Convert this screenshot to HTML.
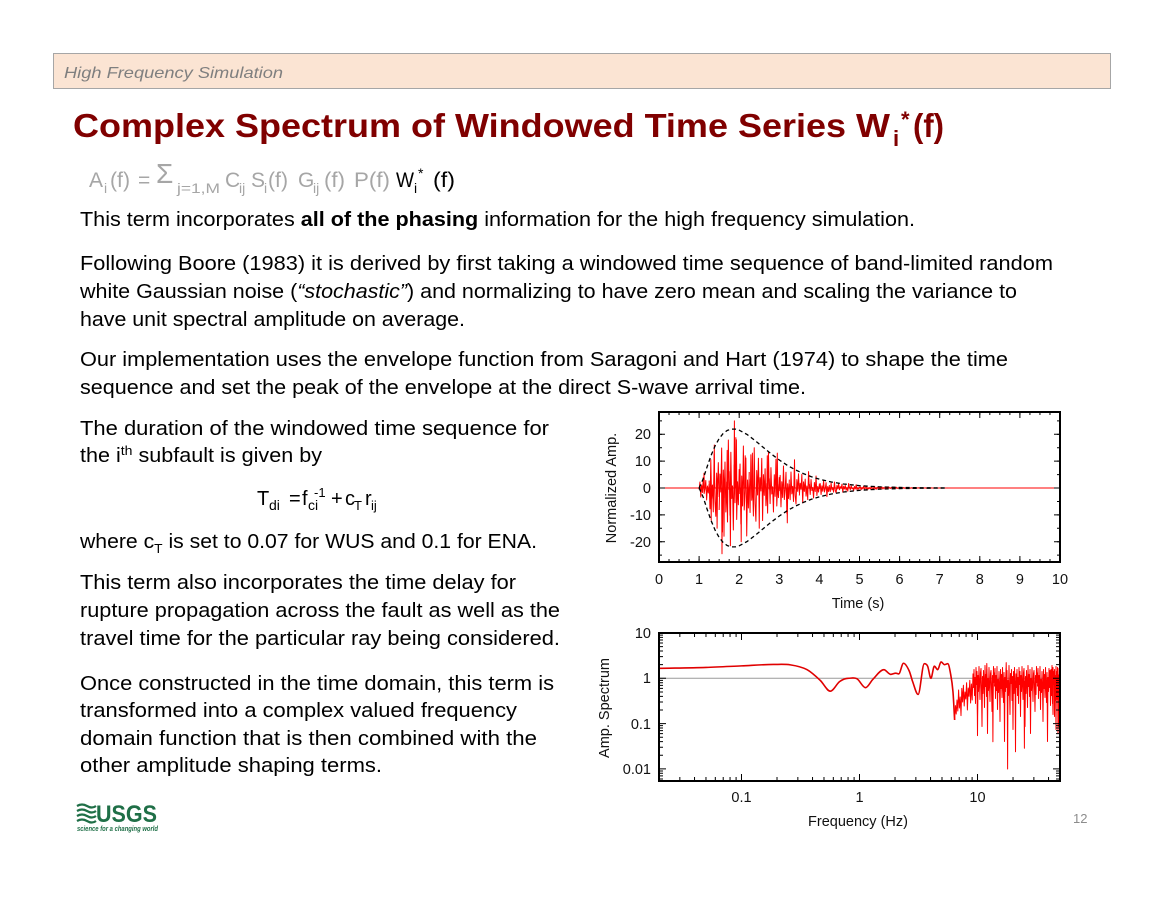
<!DOCTYPE html>
<html><head><meta charset="utf-8">
<style>html,body{margin:0;padding:0;background:#fff}svg{display:block}</style>
</head><body>
<svg width="1164" height="899" viewBox="0 0 1164 899" xmlns="http://www.w3.org/2000/svg" xmlns:xlink="http://www.w3.org/1999/xlink" font-family="'Liberation Sans', Arial, sans-serif">
<defs>
<clipPath id="c1"><rect x="659" y="412" width="401" height="150"/></clipPath>
<clipPath id="c2"><rect x="659" y="633" width="401" height="148"/></clipPath>
<path id="nA" vector-effect="non-scaling-stroke" d="M0 .3L.835 -1.2L1.671 1.8L2.506 -.6L3.342 .9L4.177 -2.1L5.013 1.1L5.848 .2L6.683 -1.5L7.519 2.4L8.354 -.4L9.19 1L10.025 -.8"/>
<path id="nB" vector-effect="non-scaling-stroke" d="M0 -.5L.835 1.4L1.671 -1.9L2.506 .7L3.342 -.2L4.177 1.6L5.013 -2.3L5.848 .9L6.683 1.9L7.519 -1L8.354 .4L9.19 -1.7L10.025 .6"/>
<path id="nC" vector-effect="non-scaling-stroke" d="M0 1.1L.835 -.7L1.671 .2L2.506 -2L3.342 2.2L4.177 -.9L5.013 .5L5.848 -1.3L6.683 1.2L7.519 -.3L8.354 1.7L9.19 -2.4L10.025 .1"/>
<path id="nD" vector-effect="non-scaling-stroke" d="M0 -.8L.835 1.3L1.671 -1.7L2.506 .5L3.342 -.1L4.177 2L5.013 -1.1L5.848 .7L6.683 -2.4L7.519 1.5L8.354 -.3L9.19 .8L10.025 -.9"/>
<path id="sP" d="M0 -8L.5 6L1 -12L1.5 14L2 -4L2.5 22L3 -14L3.5 3L4 -10L4.5 35L5 -6L5.5 10L6 -15L6.5 2L7 18L7.5 -9L8 -13L8.5 8L9 45L9.5 -5L10 12L10.5 -11L11 0L11.5 26L12 -16L12.5 5L13 -7L13.5 15L14 -12L14.5 52L15 -3L15.5 9L16 -14L16.5 4L17 20L17.5 -8L18 -11L18.5 7L19 30L19.5 -6L20 13L20.5 -15L21 1L21.5 -9"/>
<path id="sQ" d="M0 5L.5 -13L1 17L1.5 -6L2 9L2.5 -15L3 28L3.5 -2L4 11L4.5 -10L5 4L5.5 40L6 -12L6.5 7L7 -7L7.5 16L8 -14L8.5 3L9 21L9.5 -9L10 60L10.5 -4L11 10L11.5 -13L12 6L12.5 -11L13 24L13.5 -1L14 14L14.5 -16L15 8L15.5 33L16 -8L16.5 2L17 -12L17.5 19L18 -5L18.5 48L19 -10L19.5 12L20 -14L20.5 6L21 15L21.5 -7"/>
</defs>
<rect x="0" y="0" width="1164" height="899" fill="#fff"/>
<!-- header -->
<rect x="53.5" y="53.5" width="1057" height="35" fill="#fbe4d3" stroke="#a6a6a6" stroke-width="1"/>
<text x="64" y="78" font-size="16" font-style="italic" fill="#7f7f7f" textLength="219" lengthAdjust="spacingAndGlyphs">High Frequency Simulation</text>
<!-- title -->
<text x="73" y="137" font-size="33" font-weight="bold" fill="#800000" textLength="817" lengthAdjust="spacingAndGlyphs">Complex Spectrum of Windowed Time Series W</text>
<text x="893" y="146" font-size="22" font-weight="bold" fill="#800000">i</text>
<text x="901" y="127" font-size="22" font-weight="bold" fill="#800000">*</text>
<text x="913" y="137" font-size="33" font-weight="bold" fill="#800000" textLength="31" lengthAdjust="spacingAndGlyphs">(f)</text>
<!-- formula -->
<g fill="#a6a6a6" font-size="21">
<text x="89" y="187">A</text>
<text x="104" y="193" font-size="14">i</text>
<text x="110" y="187" textLength="20" lengthAdjust="spacingAndGlyphs">(f)</text>
<text x="138" y="187">=</text>
<text x="156" y="183" font-size="28">Σ</text>
<text x="177" y="193" font-size="14" textLength="43" lengthAdjust="spacingAndGlyphs">j=1,M</text>
<text x="225" y="187">C</text>
<text x="239" y="193" font-size="14">ij</text>
<text x="251" y="187">S</text>
<text x="264" y="193" font-size="14">i</text>
<text x="268" y="187" textLength="20" lengthAdjust="spacingAndGlyphs">(f)</text>
<text x="298" y="187">G</text>
<text x="313" y="193" font-size="14">ij</text>
<text x="324" y="187" textLength="21" lengthAdjust="spacingAndGlyphs">(f)</text>
<text x="354" y="187" textLength="36" lengthAdjust="spacingAndGlyphs">P(f)</text>
</g>
<g fill="#000" font-size="21">
<text x="396" y="187" textLength="18" lengthAdjust="spacingAndGlyphs">W</text>
<text x="414" y="193" font-size="14">i</text>
<text x="418" y="178" font-size="14">*</text>
<text x="433" y="187" textLength="22" lengthAdjust="spacingAndGlyphs">(f)</text>
</g>
<!-- body text -->
<g fill="#000" font-size="20">
<text x="80" y="226" textLength="835" lengthAdjust="spacingAndGlyphs">This term incorporates <tspan font-weight="bold">all of the phasing</tspan> information for the high frequency simulation.</text>
<text x="80" y="270" textLength="973" lengthAdjust="spacingAndGlyphs">Following Boore (1983) it is derived by first taking a windowed time sequence of band-limited random</text>
<text x="80" y="298" textLength="937" lengthAdjust="spacingAndGlyphs">white Gaussian noise (<tspan font-style="italic">“stochastic”</tspan>) and normalizing to have zero mean and scaling the variance to</text>
<text x="80" y="326" textLength="385" lengthAdjust="spacingAndGlyphs">have unit spectral amplitude on average.</text>
<text x="80" y="366" textLength="928" lengthAdjust="spacingAndGlyphs">Our implementation uses the envelope function from Saragoni and Hart (1974) to shape the time</text>
<text x="80" y="394" textLength="726" lengthAdjust="spacingAndGlyphs">sequence and set the peak of the envelope at the direct S-wave arrival time.</text>
<text x="80" y="435" textLength="469" lengthAdjust="spacingAndGlyphs">The duration of the windowed time sequence for</text>
<text x="80" y="462" textLength="242" lengthAdjust="spacingAndGlyphs">the i<tspan dy="-7" font-size="13">th</tspan><tspan dy="7"> subfault is given by</tspan></text>
<text x="257" y="505">T</text>
<text x="269" y="510" font-size="14">di</text>
<text x="289" y="505">=</text>
<text x="302" y="505">f</text>
<text x="308" y="510" font-size="14">ci</text>
<text x="314" y="497" font-size="13">-1</text>
<text x="331" y="505">+</text>
<text x="345" y="505">c</text>
<text x="354" y="510" font-size="13">T</text>
<text x="365" y="505">r</text>
<text x="371" y="510" font-size="13">ij</text>
<text x="80" y="548" textLength="457" lengthAdjust="spacingAndGlyphs">where c<tspan dy="5" font-size="13">T</tspan><tspan dy="-5"> is set to 0.07 for WUS and 0.1 for ENA.</tspan></text>
<text x="80" y="589" textLength="436" lengthAdjust="spacingAndGlyphs">This term also incorporates the time delay for</text>
<text x="80" y="617" textLength="480" lengthAdjust="spacingAndGlyphs">rupture propagation across the fault as well as the</text>
<text x="80" y="645" textLength="480" lengthAdjust="spacingAndGlyphs">travel time for the particular ray being considered.</text>
<text x="80" y="690" textLength="474" lengthAdjust="spacingAndGlyphs">Once constructed in the time domain, this term is</text>
<text x="80" y="717" textLength="437" lengthAdjust="spacingAndGlyphs">transformed into a complex valued frequency</text>
<text x="80" y="745" textLength="457" lengthAdjust="spacingAndGlyphs">domain function that is then combined with the</text>
<text x="80" y="772" textLength="302" lengthAdjust="spacingAndGlyphs">other amplitude shaping terms.</text>
</g>
<!-- USGS logo -->
<g fill="none" stroke="#1f6f47" stroke-width="2.2">
<path d="M77 806 q5 -3 10 0 t9 0"/>
<path d="M77 811 q5 -3 10 0 t9 0"/>
<path d="M77 816 q5 -3 10 0 t9 0"/>
<path d="M77 821 q5 -3 10 0 t9 0"/>
</g>
<text x="96" y="822" font-size="24" font-weight="bold" fill="#1f6f47" textLength="61" lengthAdjust="spacingAndGlyphs">USGS</text>
<text x="77" y="831" font-size="7" font-style="italic" font-weight="bold" fill="#1f6f47" textLength="81" lengthAdjust="spacingAndGlyphs">science for a changing world</text>
<!-- page number -->
<text x="1073" y="823" font-size="13" fill="#8c8c8c">12</text>

<!-- plot labels -->
<g font-size="14.5" fill="#111">
<g text-anchor="end">
<text x="651" y="439">20</text>
<text x="651" y="466">10</text>
<text x="651" y="493">0</text>
<text x="651" y="520">-10</text>
<text x="651" y="547">-20</text>
</g>
<g text-anchor="middle">
<text x="659" y="584">0</text>
<text x="699.1" y="584">1</text>
<text x="739.2" y="584">2</text>
<text x="779.3" y="584">3</text>
<text x="819.4" y="584">4</text>
<text x="859.5" y="584">5</text>
<text x="899.6" y="584">6</text>
<text x="939.7" y="584">7</text>
<text x="979.8" y="584">8</text>
<text x="1019.9" y="584">9</text>
<text x="1060" y="584">10</text>
<text x="858" y="608">Time (s)</text>
<text transform="translate(616,488) rotate(-90)">Normalized Amp.</text>
</g>
<g text-anchor="end">
<text x="651" y="638">10</text>
<text x="651" y="683">1</text>
<text x="651" y="729">0.1</text>
<text x="651" y="774">0.01</text>
</g>
<g text-anchor="middle">
<text x="741.5" y="802">0.1</text>
<text x="859.5" y="802">1</text>
<text x="977.5" y="802">10</text>
<text x="858" y="826">Frequency (Hz)</text>
<text transform="translate(609,708) rotate(-90)">Amp. Spectrum</text>
</g>
</g>

<!-- ===== top plot data ===== -->
<g clip-path="url(#c1)">
<line x1="659" y1="488" x2="1060" y2="488" stroke="#ff0000" stroke-width="1"/>
<g fill="none" stroke="#ff0000" stroke-width="1" stroke-linejoin="round">
<use xlink:href="#nA" href="#nA" transform="translate(699.1,488) scale(1,5)"/>
<use xlink:href="#nB" href="#nB" transform="translate(709.125,488) scale(1,14.9)"/>
<use xlink:href="#nC" href="#nC" transform="translate(719.15,488) scale(1,20)"/>
<use xlink:href="#nD" href="#nD" transform="translate(729.175,488) scale(1,21)"/>
<use xlink:href="#nA" href="#nA" transform="translate(739.2,488) scale(1,20)"/>
<use xlink:href="#nB" href="#nB" transform="translate(749.225,488) scale(1,17.5)"/>
<use xlink:href="#nC" href="#nC" transform="translate(759.25,488) scale(1,14.8)"/>
<use xlink:href="#nD" href="#nD" transform="translate(769.275,488) scale(1,12)"/>
<use xlink:href="#nA" href="#nA" transform="translate(779.3,488) scale(1,10.5)"/>
<use xlink:href="#nB" href="#nB" transform="translate(789.325,488) scale(1,8.4)"/>
<use xlink:href="#nC" href="#nC" transform="translate(799.35,488) scale(1,6.8)"/>
<use xlink:href="#nD" href="#nD" transform="translate(809.375,488) scale(1,5)"/>
<use xlink:href="#nA" href="#nA" transform="translate(819.4,488) scale(1,3.6)"/>
<use xlink:href="#nB" href="#nB" transform="translate(829.425,488) scale(1,2.6)"/>
<use xlink:href="#nC" href="#nC" transform="translate(839.45,488) scale(1,1.9)"/>
<use xlink:href="#nD" href="#nD" transform="translate(849.475,488) scale(1,1.35)"/>
<use xlink:href="#nA" href="#nA" transform="translate(859.5,488) scale(1,0.95)"/>
<use xlink:href="#nB" href="#nB" transform="translate(869.525,488) scale(1,0.66)"/>
<use xlink:href="#nC" href="#nC" transform="translate(879.55,488) scale(1,0.47)"/>
<use xlink:href="#nD" href="#nD" transform="translate(889.575,488) scale(1,0.33)"/>
<use xlink:href="#nA" href="#nA" transform="translate(899.6,488) scale(1,0.22)"/>
<use xlink:href="#nB" href="#nB" transform="translate(909.625,488) scale(1,0.16)"/>
<use xlink:href="#nC" href="#nC" transform="translate(919.65,488) scale(1,0.1)"/>
<use xlink:href="#nD" href="#nD" transform="translate(929.675,488) scale(1,0.08)"/>
<path d="M703.6 488L704 473.2L704.4 488M710.8 488L711.2 520.2L711.6 488M713.9 488L714.3 445L714.7 488M716.7 488L717.1 528.3L717.5 488M721.6 488L722 553.8L722.4 488M723.6 488L724 536.3L724.4 488M726.8 488L727.2 450.4L727.6 488M730 488L730.4 545.7L730.8 488M734 488L734.4 420.9L734.8 488M736 488L736.4 439.7L736.8 488M740.8 488L741.2 541.7L741.6 488M744.8 488L745.2 455.8L745.6 488M752 488L752.4 453.1L752.8 488M758.85 488L759.25 528.3L759.65 488M766.9 488L767.3 455.8L767.7 488M776.9 488L777.3 453.1L777.7 488M786.9 488L787.3 522.9L787.7 488M794.1 488L794.5 459.8L794.9 488"/>
</g>
<g fill="none" stroke="#000" stroke-width="1.3" stroke-dasharray="4 3">
<path d="M699.1 488L703.11 479.03L707.12 466.76L711.13 455.3L715.14 445.79L719.15 438.57L723.16 433.52L727.17 430.49L731.18 429.09L735.19 429.09L739.2 430.17L747.22 434.57L755.24 440.69L763.26 447.43L771.28 453.95L779.3 460L787.32 465.31L795.34 469.82L803.36 473.61L811.38 476.7L819.4 479.19L831.43 482.01L843.46 483.97L859.5 485.69L879.55 486.85L899.6 487.44L919.65 487.73L947.7 488"/>
<path d="M699.1 488L703.11 496.97L707.12 509.24L711.13 520.7L715.14 530.21L719.15 537.43L723.16 542.48L727.17 545.51L731.18 546.91L735.19 546.91L739.2 545.83L747.22 541.43L755.24 535.31L763.26 528.57L771.28 522.05L779.3 516L787.32 510.69L795.34 506.18L803.36 502.39L811.38 499.3L819.4 496.81L831.43 493.99L843.46 492.03L859.5 490.31L879.55 489.15L899.6 488.56L919.65 488.27L947.7 488"/>
</g>
</g>
<!-- top ticks -->
<g stroke="#000" fill="none">
<line x1="659" y1="560.5" x2="1060" y2="560.5" stroke-width="3" stroke-dasharray="1 9.025" stroke-dashoffset="0.5"/>
<line x1="659" y1="413.5" x2="1060" y2="413.5" stroke-width="3" stroke-dasharray="1 9.025" stroke-dashoffset="0.5"/>
<line x1="659" y1="559" x2="1060" y2="559" stroke-width="6" stroke-dasharray="1 39.1" stroke-dashoffset="0.5"/>
<line x1="659" y1="415" x2="1060" y2="415" stroke-width="6" stroke-dasharray="1 39.1" stroke-dashoffset="0.5"/>
<line x1="660.5" y1="420.4" x2="660.5" y2="562" stroke-width="3" stroke-dasharray="1 12.425"/>
<line x1="1058.5" y1="420.4" x2="1058.5" y2="562" stroke-width="3" stroke-dasharray="1 12.425"/>
<line x1="662" y1="433.8" x2="662" y2="562" stroke-width="6" stroke-dasharray="1 25.85"/>
<line x1="1057" y1="433.8" x2="1057" y2="562" stroke-width="6" stroke-dasharray="1 25.85"/>
</g>

<!-- ===== bottom plot data ===== -->
<g clip-path="url(#c2)">
<line x1="659" y1="678.3" x2="1060" y2="678.3" stroke="#9a9a9a" stroke-width="1"/>
<path fill="none" stroke="#e00000" stroke-width="1.6" stroke-linejoin="round" d="M659 668.33C674.65 668.02 690.31 667.9 705.96 667.41C717.8 667.04 729.64 666.4 741.48 665.88C752.08 665.41 762.68 664.47 773.28 664.47C779 664.47 784.73 663.97 790.45 664.86C796.01 665.73 801.56 666.62 807.12 669.68C811.5 672.09 815.87 676.25 820.25 680.37C823.6 683.52 826.96 691.17 830.31 691.17C833.45 691.17 836.58 683.7 839.72 681.5C842.5 679.55 845.27 678.3 848.05 678.3C850.98 678.3 853.92 677.24 856.85 678.7C859.74 680.15 862.63 687.7 865.52 687.7C867.99 687.7 870.45 681.78 872.92 679.31C876.57 675.66 880.23 669.68 883.88 669.68C886.16 669.68 888.45 674.39 890.73 674.39C892.41 674.39 894.09 673.14 895.77 673.14C896.75 673.14 897.72 673.91 898.7 673.91C900.29 673.91 901.89 663.24 903.48 663.24C905.4 663.24 907.31 666.77 909.23 670.99C910.35 673.45 911.48 678.48 912.6 681.5C914.44 686.47 916.28 694.45 918.12 694.45C920.17 694.45 922.21 663.7 924.26 663.7C925.38 663.7 926.51 663.74 927.63 666.2C928.72 668.6 929.82 678.3 930.91 678.3C932.06 678.3 933.2 666.2 934.35 666.2C935.46 666.2 936.58 669.68 937.69 669.68C938.8 669.68 939.92 661.92 941.03 661.92C942.18 661.92 943.32 664.66 944.47 664.66C945.57 664.66 946.67 663.7 947.77 663.7C948.66 663.7 949.56 668.24 950.45 673.14C951.3 677.82 952.14 681.74 952.99 691.94C953.53 698.42 954.08 710.83 954.62 720.01"/>
<g fill="none" stroke="#ff0000" stroke-width="1" stroke-linejoin="round">
<path d="M954.62 720.01L955.4 705.6L956.2 714L957 700L957.8 711L958.6 690L959.4 708L960.2 697L961 715.6L961.8 688.4L962.6 702L963.4 685.3L964.2 706L965 692L965.8 699L966.6 682.7L967.4 710L968.2 688L969 696.3L969.8 680.4L970.6 703L971.4 684L972.2 700L973 674"/>
<use xlink:href="#sP" href="#sP" transform="translate(973,681.5)"/>
<use xlink:href="#sQ" href="#sQ" transform="translate(994.5,681.5)"/>
<use xlink:href="#sP" href="#sP" transform="translate(1016,681.5)"/>
<use xlink:href="#sQ" href="#sQ" transform="translate(1037.5,681.5)"/>
<use xlink:href="#sP" href="#sP" transform="translate(1050,681.5)"/>
<path d="M977.1 681L977.5 735.6L977.9 681M986.4 681L986.8 663.5L987.2 681M992.5 681L992.9 741.8L993.3 681M1005.8 681L1006.2 662.6L1006.6 681M1007.2 681L1007.6 769L1008 681M1015.1 681L1015.5 751.8L1015.9 681M1024 681L1024.4 748.3L1024.8 681M1057.6 681L1058 733.6L1058.4 681"/>
</g>
</g>
<!-- bottom ticks -->
<path fill="none" stroke="#000" stroke-width="1" d="M679.84 781V777M679.84 633V637M694.53 781V777M694.53 633V637M705.97 781V777M705.97 633V637M715.31 781V777M715.31 633V637M723.21 781V777M723.21 633V637M730.05 781V777M730.05 633V637M736.09 781V777M736.09 633V637M741.49 781V774M741.49 633V640M777.01 781V777M777.01 633V637M797.85 781V777M797.85 633V637M812.54 781V777M812.54 633V637M823.98 781V777M823.98 633V637M833.32 781V777M833.32 633V637M841.22 781V777M841.22 633V637M848.06 781V777M848.06 633V637M854.1 781V777M854.1 633V637M859.5 781V774M859.5 633V640M895.02 781V777M895.02 633V637M915.86 781V777M915.86 633V637M930.55 781V777M930.55 633V637M941.99 781V777M941.99 633V637M951.33 781V777M951.33 633V637M959.23 781V777M959.23 633V637M966.07 781V777M966.07 633V637M972.11 781V777M972.11 633V637M977.51 781V774M977.51 633V640M1013.03 781V777M1013.03 633V637M1033.87 781V777M1033.87 633V637M1048.56 781V777M1048.56 633V637
M659 664.66H663M1060 664.66H1056M659 656.67H663M1060 656.67H1056M659 651.03H663M1060 651.03H1056M659 646.64H663M1060 646.64H1056M659 643.05H663M1060 643.05H1056M659 640.02H663M1060 640.02H1056M659 637.39H663M1060 637.39H1056M659 635.07H663M1060 635.07H1056M659 678.3H666M1060 678.3H1053M659 709.96H663M1060 709.96H1056M659 701.97H663M1060 701.97H1056M659 696.33H663M1060 696.33H1056M659 691.94H663M1060 691.94H1056M659 688.35H663M1060 688.35H1056M659 685.32H663M1060 685.32H1056M659 682.69H663M1060 682.69H1056M659 680.37H663M1060 680.37H1056M659 723.6H666M1060 723.6H1053M659 755.26H663M1060 755.26H1056M659 747.27H663M1060 747.27H1056M659 741.63H663M1060 741.63H1056M659 737.24H663M1060 737.24H1056M659 733.65H663M1060 733.65H1056M659 730.62H663M1060 730.62H1056M659 727.99H663M1060 727.99H1056M659 725.67H663M1060 725.67H1056M659 768.9H666M1060 768.9H1053M659 778.95H663M1060 778.95H1056M659 775.92H663M1060 775.92H1056M659 773.29H663M1060 773.29H1056M659 770.97H663M1060 770.97H1056"/>

<!-- frames -->
<rect x="659" y="412" width="401" height="150" fill="none" stroke="#000" stroke-width="2"/>
<rect x="659" y="633" width="401" height="148" fill="none" stroke="#000" stroke-width="2"/>
</svg>
</body></html>
